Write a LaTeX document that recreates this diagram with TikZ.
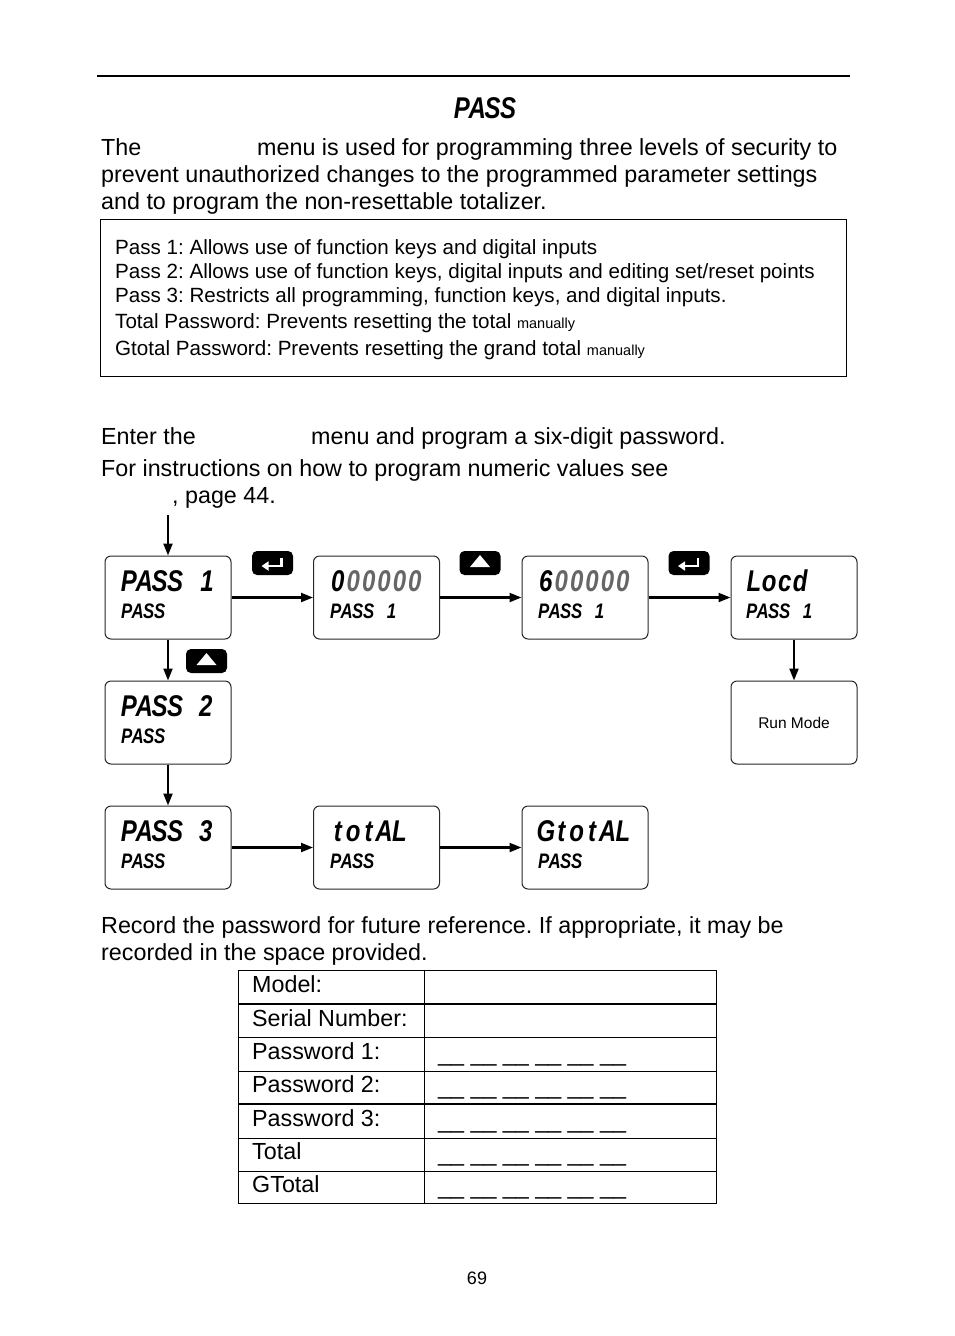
\documentclass[tikz,border=0pt]{standalone}
\usepackage{fontspec}
\setmainfont{Liberation Sans}
\newfontfamily\lcdf{Liberation Sans}
\usetikzlibrary{arrows.meta,calc}
\frenchspacing
% seven-segment style cells
\newcommand\Cb[1]{\makebox[15.4pt][c]{\scalebox{0.8}[1]{#1}}}
\newcommand\CbR[1]{\makebox[15.4pt][r]{\scalebox{0.8}[1]{#1}}}
\newcommand\Cs[1]{\makebox[11pt][c]{\scalebox{0.8}[1]{#1}}}
\newcommand\CsR[1]{\makebox[11pt][r]{\scalebox{0.8}[1]{#1}}}
\newcommand\lcdbig[1]{{\lcdf\fontsize{30}{30}\selectfont\bfseries\itshape #1}}
\newcommand\lcdsmall[1]{{\lcdf\fontsize{21}{21}\selectfont\bfseries\itshape #1}}
\definecolor{lcdgray}{gray}{0.4}
\begin{document}
\begin{tikzpicture}[x=1pt,y=-1pt,
  lcdbox/.style={draw=black!85, line width=1pt, rounded corners=6pt, minimum width=126pt, minimum height=83pt, inner sep=0pt},
  conn/.style={line width=2.1pt, -{Triangle[length=12pt,width=9pt]}},
  keyicon/.style={fill=black, rounded corners=5pt, minimum width=41pt, minimum height=24pt, inner sep=0pt},
  body/.style={anchor=base west, inner sep=0pt, font=\fontsize{23.3}{28}\selectfont},
  boxtxt/.style={anchor=base west, inner sep=0pt, font=\fontsize{20.6}{24}\selectfont},
  lcdtxt/.style={anchor=west, inner sep=0pt},
  tline/.style={line width=1pt}
]
\useasboundingbox (0,0) rectangle (954,1336);
\fill[white] (0,0) rectangle (954,1336);

% header rule and title
\draw[line width=1.2pt] (97,76) -- (850,76);
\node[inner sep=0pt] (title) at (485,108) {\lcdbig{\Cb{P}\Cb{A}\Cb{S}\Cb{S}}};

% intro paragraph
\node[body] (p1a) at (101,155) {The};
\node[body] (p1b) at (257,155) {menu is used for programming three levels of security to};
\node[body] (p1c) at (101,182) {prevent unauthorized changes to the programmed parameter settings};
\node[body] (p1d) at (101,209) {and to program the non-resettable totalizer.};

% info box
\node[draw, line width=1pt, minimum width=746pt, minimum height=157pt, anchor=north west, inner sep=0pt] (tb) at (100,219) {};
\node[boxtxt] (l1) at (115,254) {Pass 1: Allows use of function keys and digital inputs};
\node[boxtxt] (l2) at (115,278) {Pass 2: Allows use of function keys, digital inputs and editing set/reset points};
\node[boxtxt] (l3) at (115,302) {Pass 3: Restricts all programming, function keys, and digital inputs.};
\node[boxtxt] (l4) at (115,328) {Total Password: Prevents resetting the total {\fontsize{14.5}{16}\selectfont manually}};
\node[boxtxt] (l5) at (115,355) {Gtotal Password: Prevents resetting the grand total {\fontsize{14.5}{16}\selectfont manually}};

% instructions
\node[body] (e1) at (101,444) {Enter the};
\node[body] (e2) at (311,444) {menu and program a six-digit password.};
\node[body] (f1) at (101,476) {For instructions on how to program numeric values see};
\node[body] (f2) at (172,503) {, page 44.};

% LCD boxes
\node[lcdbox] (b1) at (168,597.5) {};
\node[lcdbox] (b2) at (376.5,597.5) {};
\node[lcdbox] (b3) at (585,597.5) {};
\node[lcdbox] (b4) at (794,597.5) {};
\node[lcdbox] (b5) at (168,722.5) {};
\node[lcdbox] (run) at (794,722.5) {};
\node[lcdbox] (b6) at (168,847.5) {};
\node[lcdbox] (b7) at (376.5,847.5) {};
\node[lcdbox] (b8) at (585,847.5) {};

\node[lcdtxt] (t1a) at (121,581) {\lcdbig{\Cb{P}\Cb{A}\Cb{S}\Cb{S}\Cb{}\CbR{1}}};
\node[lcdtxt] (t1b) at (121,611) {\lcdsmall{\Cs{P}\Cs{A}\Cs{S}\Cs{S}}};
\node[lcdtxt] (t2a) at (330,581) {\lcdbig{\Cb{0}\textcolor{lcdgray}{\Cb{0}\Cb{0}\Cb{0}\Cb{0}\Cb{0}}}};
\node[lcdtxt] (t2b) at (330,611) {\lcdsmall{\Cs{P}\Cs{A}\Cs{S}\Cs{S}\Cs{}\CsR{1}}};
\node[lcdtxt] (t3a) at (538,581) {\lcdbig{\Cb{6}\textcolor{lcdgray}{\Cb{0}\Cb{0}\Cb{0}\Cb{0}\Cb{0}}}};
\node[lcdtxt] (t3b) at (538,611) {\lcdsmall{\Cs{P}\Cs{A}\Cs{S}\Cs{S}\Cs{}\CsR{1}}};
\node[lcdtxt] (t4a) at (746,581) {\lcdbig{\Cb{L}\Cb{o}\Cb{c}\Cb{d}}};
\node[lcdtxt] (t4b) at (746,611) {\lcdsmall{\Cs{P}\Cs{A}\Cs{S}\Cs{S}\Cs{}\CsR{1}}};
\node[lcdtxt] (t5a) at (121,706) {\lcdbig{\Cb{P}\Cb{A}\Cb{S}\Cb{S}\Cb{}\Cb{2}}};
\node[lcdtxt] (t5b) at (121,736) {\lcdsmall{\Cs{P}\Cs{A}\Cs{S}\Cs{S}}};
\node[inner sep=0pt, font=\fontsize{15.5}{18}\selectfont] (runt) at (run) {Run Mode};
\node[lcdtxt] (t6a) at (121,831) {\lcdbig{\Cb{P}\Cb{A}\Cb{S}\Cb{S}\Cb{}\Cb{3}}};
\node[lcdtxt] (t6b) at (121,861) {\lcdsmall{\Cs{P}\Cs{A}\Cs{S}\Cs{S}}};
\node[lcdtxt] (t7a) at (330,831) {\lcdbig{\Cb{t}\Cb{o}\Cb{t}\Cb{A}\Cb{L}}};
\node[lcdtxt] (t7b) at (330,861) {\lcdsmall{\Cs{P}\Cs{A}\Cs{S}\Cs{S}}};
\node[lcdtxt] (t8a) at (538,831) {\lcdbig{\Cb{G}\Cb{t}\Cb{o}\Cb{t}\Cb{A}\Cb{L}}};
\node[lcdtxt] (t8b) at (538,861) {\lcdsmall{\Cs{P}\Cs{A}\Cs{S}\Cs{S}}};

% connectors
\coordinate (start) at (168,515);
\draw[conn] (start) -- (b1);
\draw[conn] (b1) -- (b2);
\draw[conn] (b2) -- (b3);
\draw[conn] (b3) -- (b4);
\draw[conn] (b4) -- (run);
\draw[conn] (b1) -- (b5);
\draw[conn] (b5) -- (b6);
\draw[conn] (b6) -- (b7);
\draw[conn] (b7) -- (b8);

% key icons
\node[keyicon] (k1) at (272.5,563) {};
\node[keyicon] (k2) at (480,563) {};
\node[keyicon] (k3) at (689,563) {};
\node[keyicon] (k4) at (206.5,661) {};
\foreach \k in {k1,k3}{
  \draw[white, line width=2.6pt, -{Triangle[length=7pt,width=9pt]}]
    ($(\k.center)+(9,-5)$) -- ($(\k.center)+(9,3)$) -- ($(\k.center)+(-11,3)$);
}
\foreach \k in {k2,k4}{
  \fill[white] ($(\k.center)+(0,-8)$) -- ($(\k.center)+(10,4)$) -- ($(\k.center)+(-10,4)$) -- cycle;
}

% record text
\node[body] (r1) at (101,933) {Record the password for future reference. If appropriate, it may be};
\node[body] (r2) at (101,960) {recorded in the space provided.};

% table
\draw[tline] (238,970) rectangle (716,1203);
\draw[tline] (424,970) -- (424,1203);
\draw[line width=1.6pt] (238,1004) -- (716,1004);
\draw[tline] (238,1037) -- (716,1037);
\draw[tline] (238,1071) -- (716,1071);
\draw[line width=1.6pt] (238,1104) -- (716,1104);
\draw[tline] (238,1138) -- (716,1138);
\draw[tline] (238,1171) -- (716,1171);
\node[body] (c1) at (252,992) {Model:};
\node[body] (c2) at (252,1026) {Serial Number:};
\node[body] (c3) at (252,1059) {Password 1:};
\node[body] (c4) at (252,1092) {Password 2:};
\node[body] (c5) at (252,1126) {Password 3:};
\node[body] (c6) at (252,1159) {Total};
\node[body] (c7) at (252,1192) {GTotal};
\foreach \y/\n in {1061/d3,1094/d4,1128/d5,1161/d6,1194/d7}{
  \node[body] (\n) at (438,\y) {\_\_ \_\_ \_\_ \_\_ \_\_ \_\_};
}

% page number
\node[inner sep=0pt, font=\fontsize{18}{20}\selectfont] (pg) at (477,1278) {69};
\end{tikzpicture}
\end{document}
